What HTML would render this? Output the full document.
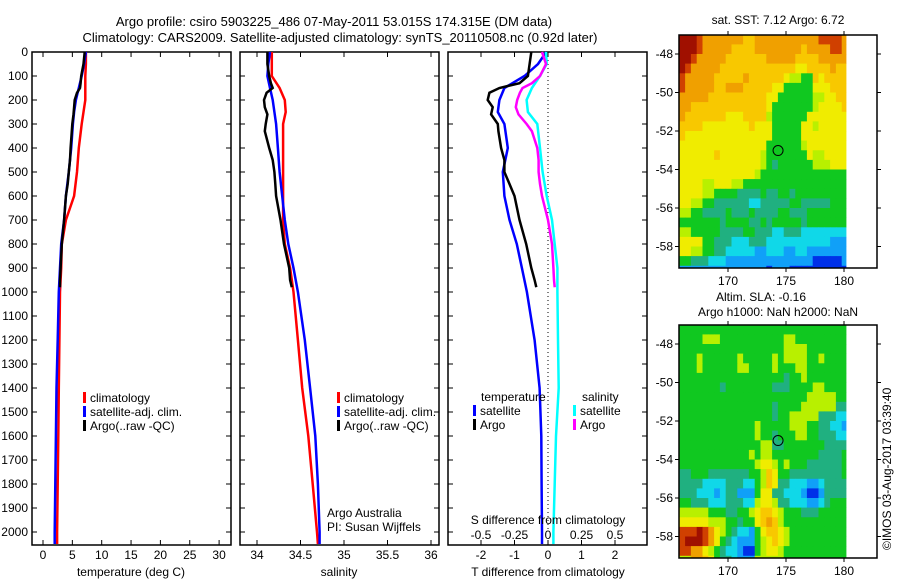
<!DOCTYPE html>
<html><head><meta charset="utf-8">
<style>
html,body{margin:0;padding:0;background:#fff;}
svg{display:block;font-family:"Liberation Sans",sans-serif;}
text{font-size:12px;fill:#000;}
</style></head>
<body>
<svg id="fig" width="900" height="580" viewBox="0 0 900 580" xmlns="http://www.w3.org/2000/svg">
<text x="334" y="26" text-anchor="middle" style="font-size:13px">Argo profile: csiro 5903225_486 07-May-2011 53.015S 174.315E (DM data)</text>
<text x="340" y="42" text-anchor="middle" style="font-size:13px">Climatology: CARS2009. Satellite-adjusted climatology: synTS_20110508.nc (0.92d later)</text>
<g id="g1"></g>
<g id="g2"></g>
<g id="g3"></g>
<g id="m1"></g>
<g id="m2"></g>
<text x="778" y="24" text-anchor="middle">sat. SST: 7.12 Argo: 6.72</text>
<text x="761" y="301" text-anchor="middle">Altim. SLA: -0.16</text>
<text x="778" y="316" text-anchor="middle">Argo h1000: NaN h2000: NaN</text>
<text transform="translate(891,550) rotate(-90)">©IMOS 03-Aug-2017 03:39:40</text>
</svg>
<script>
// ---- data ----
const depthTicks=[0,100,200,300,400,500,600,700,800,900,1000,1100,1200,1300,1400,1500,1600,1700,1800,1900,2000];
const tempTicks=[0,5,10,15,20,25,30];
const salTicks=[34,34.5,35,35.5,36];
const tdiffTicks=[-2,-1,0,1,2];
const sdiffTicks=[-0.5,-0.25,0,0.25,0.5];
const climDepth=[0,50,100,150,200,250,300,400,500,600,700,800,900,1000,1200,1400,1600,1800,2000,2050];
const tempClim=[7.3,7.3,7.2,7.2,7.2,6.9,6.6,6.1,5.8,5.3,3.9,3.2,3.1,2.9,2.8,2.7,2.6,2.5,2.4,2.4];
const tempSat=[7.3,7.0,6.6,6.1,5.6,5.3,5.1,4.8,4.4,3.9,3.6,3.1,2.9,2.7,2.5,2.3,2.2,2.1,2.0,2.0];
const salClim=[34.17,34.17,34.17,34.26,34.32,34.33,34.30,34.30,34.30,34.30,34.30,34.32,34.38,34.42,34.47,34.52,34.59,34.64,34.69,34.70];
const salSat=[34.15,34.13,34.12,34.15,34.18,34.20,34.22,34.24,34.26,34.29,34.32,34.36,34.42,34.47,34.55,34.61,34.67,34.70,34.72,34.72];
const argoDepth=[0,50,100,130,150,170,200,230,260,300,330,400,450,500,550,600,700,800,900,950,980];
const tempArgo=[7.1,6.9,6.5,6.4,6.3,5.8,5.4,5.3,5.2,5.0,4.9,4.7,4.6,4.4,4.2,3.9,3.6,3.2,3.0,2.9,2.9];
const salArgo=[34.12,34.12,34.14,34.16,34.18,34.11,34.08,34.09,34.12,34.10,34.09,34.14,34.18,34.20,34.21,34.22,34.27,34.31,34.37,34.38,34.40];
const tdiffSat=[-0.05,-0.3,-0.7,-1.3,-1.45,-1.5,-1.3,-1.2,-1.35,-1.3,-1.15,-0.93,-0.78,-0.63,-0.4,-0.25,-0.2,-0.19,-0.18,-0.18];
const sdiffSat=[-0.015,-0.01,-0.06,-0.12,-0.16,-0.15,-0.08,-0.06,-0.04,-0.01,0.03,0.05,0.07,0.07,0.075,0.08,0.06,0.05,0.04,0.04];
const tdiffArgo=[-0.5,-0.55,-0.6,-0.85,-1.45,-1.75,-1.8,-1.65,-1.7,-1.5,-1.48,-1.4,-1.3,-1.3,-1.15,-1.0,-0.85,-0.65,-0.5,-0.4,-0.35];
const sdiffArgo=[-0.045,-0.015,-0.06,-0.12,-0.19,-0.21,-0.23,-0.24,-0.22,-0.16,-0.12,-0.08,-0.07,-0.07,-0.06,-0.045,0,0.03,0.04,0.045,0.05];
const mapLonTicks=[170,175,180];
const mapLatTicks=[-48,-50,-52,-54,-56,-58];
const sstGrid=[
"aaa98888888778888888888899998",
"aaa98888877778888888878888998",
"aa988888777777788888777788888",
"a9888887777777777777667777877",
"98888877777877777765544767777",
"98888877888777776644444666777",
"88888777777777766444444556677",
"88777777777777764444444566667",
"87777777666777754444446666666",
"77776666666676664444466566666",
"76666666666666664444466666666",
"66666666666666644444456666666",
"66666676666666544444446556666",
"66666666666666543444444555666",
"66666666666665444444444444444",
"66665566655444444444444444444",
"66665544443333433443444444444",
"66554433333322333334433333444",
"55443333433343333443334444444",
"44444443444433434444434444444",
"55444443333443332233322222222",
"66664433322233322222222222111",
"66554433222221122211221111111",
"44333222111111111111111000001",
"11111111111111101110000000000"];
const slaGrid=[
"44444444444444444444444444444",
"44445554444444444455444444444",
"44444444444444444455554444444",
"44454444445444445455554454444",
"44454444445544445444554444444",
"44444444444444444434454444444",
"44444443444444443334444554444",
"44444444444444444444445555544",
"44444444444444443444455555533",
"44444444444444443445555533322",
"44444444444445444445554433221",
"44444444444445443444554433322",
"44444444444444553344444443333",
"44444444444454554444444433334",
"44444444444445665454443333334",
"33444333333344576443333333334",
"33332222333224576332221123333",
"33322212331114663322210013333",
"44333222333225665332221123444",
"55555444334456776544433344444",
"66666555443446787544444444444",
"999a9865432214677654444444444",
"9aaa9864321114567654444444444",
"99886543221004566544444444444",
"55887643321115555544444444444"];
const palette={"0":"#0030e8","1":"#10a0f8","2":"#10d8e8","3":"#20b080","4":"#10c820","5":"#b8f000","6":"#f0ec00","7":"#f8c800","8":"#f0a000","9":"#d04000","a":"#a01000"};

const NS="http://www.w3.org/2000/svg";
function mk(parent,tag,attrs){const e=document.createElementNS(NS,tag);for(const k in attrs)e.setAttribute(k,attrs[k]);parent.appendChild(e);return e;}
const yD=d=>52+0.24*d;

function frame(g,x0,x1,name){
  const r=mk(g,'rect',{x:x0,y:52,width:x1-x0,height:493,fill:'none',stroke:'#000','stroke-width':1.5});
  
  
}
function yTicks(g,x0,x1,labels){
  depthTicks.forEach(d=>{
    const y=yD(d);
    mk(g,'line',{x1:x0,x2:x0+5,y1:y,y2:y,stroke:'#000'});
    mk(g,'line',{x1:x1,x2:x1-5,y1:y,y2:y,stroke:'#000'});
    if(labels){const t=mk(g,'text',{x:x0-4,y:y+4,'text-anchor':'end'});t.textContent=d;
      
      }
  });
}
function xTicks(g,ticks,sx,yb,ly){
  ticks.forEach(v=>{const x=sx(v);
    mk(g,'line',{x1:x,x2:x,y1:yb,y2:yb-5,stroke:'#000'});
    mk(g,'line',{x1:x,x2:x,y1:52,y2:57,stroke:'#000'});
    const t=mk(g,'text',{x:x,y:ly,'text-anchor':'middle'});t.textContent=v;
    
    
  });
}
function line(g,xs,ds,sx,color,name){
  const pts=xs.map((v,i)=>sx(v).toFixed(1)+','+yD(ds[i]).toFixed(1)).join(' ');
  const p=mk(g,'polyline',{points:pts,fill:'none',stroke:color,'stroke-width':2.5});
  
  
}
function label(g,x,y,txt,name,anchor){const t=mk(g,'text',{x:x,y:y,'text-anchor':anchor||'start'});t.textContent=txt;
  
  return t;}
function legend(g,x,y,color,txt,name){
  mk(g,'rect',{x:x,y:y-10,width:3,height:11,fill:color});
  label(g,x+7,y,txt,name);
}

// Panel 1 temperature
const g1=document.getElementById('g1');
const sT=v=>43+5.87*v;
frame(g1,32,231,'temperature');yTicks(g1,32,231,true);
xTicks(g1,tempTicks,sT,545,559);
line(g1,tempClim,climDepth,sT,'#ff0000','temp-climatology-line');
line(g1,tempSat,climDepth,sT,'#0000ff','temp-satellite-line');
line(g1,tempArgo,argoDepth,sT,'#000000','temp-argo-line');
label(g1,131,576,'temperature (deg C)','temperature-axis-title','middle');
legend(g1,83,402,'#ff0000','climatology','legend-climatology');
legend(g1,83,416,'#0000ff','satellite-adj. clim.','legend-satellite');
legend(g1,83,430,'#000000','Argo(..raw -QC)','legend-argo');

// Panel 2 salinity
const g2=document.getElementById('g2');
const sS=v=>257+87*(v-34);
frame(g2,240,439,'salinity');yTicks(g2,240,439,false);
xTicks(g2,salTicks,sS,545,559);
line(g2,salClim,climDepth,sS,'#ff0000','sal-climatology-line');
line(g2,salSat,climDepth,sS,'#0000ff','sal-satellite-line');
line(g2,salArgo,argoDepth,sS,'#000000','sal-argo-line');
label(g2,339,576,'salinity','salinity-axis-title','middle');
legend(g2,337,402,'#ff0000','climatology','legend-climatology');
legend(g2,337,416,'#0000ff','satellite-adj. clim.','legend-satellite');
legend(g2,337,430,'#000000','Argo(..raw -QC)','legend-argo');
label(g2,327,517,'Argo Australia','pi-institution');
label(g2,327,531,'PI: Susan Wijffels','pi-name');

// Panel 3 differences
const g3=document.getElementById('g3');
const sTd=v=>548+33.5*v, sSd=v=>548+134*v;
frame(g3,448,647,'difference');yTicks(g3,448,647,false);
xTicks(g3,tdiffTicks,sTd,545,559);
sdiffTicks.forEach(v=>{label(g3,sSd(v),539,String(v),'s-diff-tick-label','middle');});
mk(g3,'line',{x1:548,x2:548,y1:52,y2:532,stroke:'#000','stroke-dasharray':'1,3'});
line(g3,tdiffSat,climDepth,sTd,'#0000ff','tdiff-satellite-line');
line(g3,tdiffArgo,argoDepth,sTd,'#000000','tdiff-argo-line');
line(g3,sdiffSat,climDepth,sSd,'#00ffff','sdiff-satellite-line');
line(g3,sdiffArgo,argoDepth,sSd,'#ff00ff','sdiff-argo-line');
label(g3,481,401,'temperature','legend-temperature-header');
label(g3,582,401,'salinity','legend-salinity-header');
legend(g3,473,415,'#0000ff','satellite','legend-t-satellite');
legend(g3,473,429,'#000000','Argo','legend-t-argo');
legend(g3,573,415,'#00ffff','satellite','legend-s-satellite');
legend(g3,573,429,'#ff00ff','Argo','legend-s-argo');
label(g3,548,524,'S difference from climatology','s-diff-axis-title','middle');
label(g3,548,576,'T difference from climatology','t-diff-axis-title','middle');

// Maps (0.5 degree cells)
function drawMap(id,grid,top,name){
  const g=document.getElementById(id);
  const lx=v=>728+11.6*(v-170), ly=v=>top+19-19.25*(v+48);
  grid.forEach((row,r)=>{[...row].forEach((c,i)=>{
    const x0=lx(165.8+0.5*i), x1=Math.min(lx(166.3+0.5*i),846), y0=ly(-47-0.5*r), y1=Math.min(ly(-47.5-0.5*r),top+233);
    if(x1<=x0||y1<=y0)return;
    const cell=mk(g,'rect',{x:x0.toFixed(1),y:y0.toFixed(1),width:(x1-x0+0.4).toFixed(1),height:(y1-y0+0.4).toFixed(1),fill:palette[c]});
    
    
  });});
  const f=mk(g,'rect',{x:679,y:top,width:198,height:233,fill:'none',stroke:'#000','stroke-width':1.5});
  
  
  mapLonTicks.forEach(v=>{const x=lx(v);
    mk(g,'line',{x1:x,x2:x,y1:top,y2:top-4,stroke:'#000'});
    mk(g,'line',{x1:x,x2:x,y1:top+233,y2:top+237,stroke:'#000'});
    label(g,x,top+250,v,'lon-tick-label','middle');});
  mapLatTicks.forEach(v=>{const y=ly(v);
    mk(g,'line',{x1:679,x2:675,y1:y,y2:y,stroke:'#000'});
    mk(g,'line',{x1:877,x2:881,y1:y,y2:y,stroke:'#000'});
    label(g,673,y+4,v,'lat-tick-label','end');});
  const m=mk(g,'circle',{cx:lx(174.315),cy:ly(-53.015),r:5,fill:'none',stroke:'#000'});
  
  
}
drawMap('m1',sstGrid,35,'sst-map');
drawMap('m2',slaGrid,325,'sla-map');
</script>
</body></html>
